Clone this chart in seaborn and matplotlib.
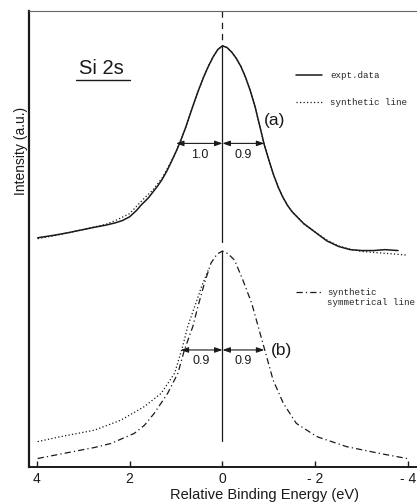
import matplotlib
matplotlib.use("Agg")
import matplotlib.pyplot as plt
from matplotlib.lines import Line2D
import pandas as pd
import seaborn as sns

# ---- Si 2s photoemission line: experimental data and fitted line shapes ----
# (a) measured spectrum
expt_energy = [3.98, 3.6, 3.33, 3.0, 2.76, 2.5, 2.3, 2.15, 2.0, 1.85, 1.75, 1.6, 1.5,
               1.4, 1.3, 1.2, 1.1, 1.0, 0.9, 0.8, 0.7, 0.6, 0.5, 0.4, 0.3, 0.2, 0.1,
               0.0, -0.1, -0.2, -0.3, -0.4, -0.5, -0.6, -0.7, -0.8, -0.9, -1.0,
               -1.1, -1.2, -1.3, -1.4, -1.5, -1.75, -2.0, -2.25, -2.5, -2.75, -3.0,
               -3.25, -3.5, -3.78]
expt_intensity = [5.02, 5.08, 5.13, 5.20, 5.25, 5.30, 5.35, 5.40, 5.48, 5.62, 5.74, 5.89,
                  6.02, 6.15, 6.30, 6.48, 6.69, 6.91, 7.15, 7.42, 7.72, 8.02, 8.30,
                  8.56, 8.79, 8.99, 9.15, 9.23, 9.19, 9.09, 8.95, 8.77, 8.53, 8.24,
                  7.90, 7.48, 7.06, 6.72, 6.40, 6.13, 5.91, 5.73, 5.59, 5.33, 5.14,
                  4.95, 4.83, 4.76, 4.74, 4.74, 4.76, 4.74]

# (a) asymmetric synthetic line
synth_energy = [3.98, 3.6, 3.0, 2.5, 2.3, 2.0, 1.75, 1.5, 1.3, 1.1, 1.0, 0.9, 0.8, 0.7,
                0.6, 0.5, 0.4, 0.3, 0.2, 0.1, 0.0, -0.1, -0.2, -0.3, -0.4, -0.5,
                -0.6, -0.7, -0.8, -0.9, -1.0, -1.1, -1.2, -1.3, -1.4, -1.5, -1.75,
                -2.0, -2.25, -2.5, -2.75, -3.0, -3.25, -3.5, -3.75, -3.96]
synth_intensity = [5.00, 5.07, 5.20, 5.32, 5.40, 5.55, 5.82, 6.07, 6.33, 6.70, 6.91,
                   7.15, 7.42, 7.72, 8.02, 8.30, 8.56, 8.79, 8.99, 9.15, 9.23, 9.19,
                   9.09, 8.95, 8.77, 8.53, 8.24, 7.90, 7.48, 7.06, 6.72, 6.40, 6.13,
                   5.91, 5.73, 5.59, 5.33, 5.14, 4.97, 4.84, 4.77, 4.72, 4.70, 4.68,
                   4.66, 4.64]

# (b) synthetic symmetrical line
sym_energy = [3.98, 3.12, 2.76, 2.40, 1.90, 1.68, 1.47, 1.18, 0.96, 0.82, 0.64, 0.53,
              0.39, 0.25, 0.12, 0.0, -0.12, -0.26, -0.44, -0.63, -0.77, -0.91, -1.09,
              -1.31, -1.59, -2.03, -2.67, -3.39, -3.97]
sym_intensity = [0.18, 0.35, 0.42, 0.51, 0.73, 0.91, 1.17, 1.61, 2.05, 2.56, 3.07, 3.51,
                 4.02, 4.46, 4.66, 4.73, 4.67, 4.53, 4.09, 3.58, 3.07, 2.56, 1.90,
                 1.39, 0.95, 0.66, 0.44, 0.29, 0.18]

# (b) asymmetric line, low-energy tail
asym_energy = [3.98, 3.48, 2.76, 2.19, 1.68, 1.32, 1.03, 0.86, 0.75, 0.60, 0.45, 0.30]
asym_intensity = [0.55, 0.66, 0.80, 1.02, 1.32, 1.61, 2.05, 2.63, 3.07, 3.51, 3.95,
                  4.33]

# half widths at half maximum (eV) and the levels they are measured at
hw_a = [1.0, 0.9]
hw_b = [0.9, 0.9]
half_level_a = 7.09
half_level_b = 2.56

tick_values = [4, 2, 0, -2, -4]
tick_labels = ["4", "2", "0", "- 2", "- 4"]

# ---------------------------------------------------------------------------
sns.set_style("white")
plt.rcParams["font.family"] = ["Liberation Sans", "DejaVu Sans"]
MONO = ["Liberation Mono", "DejaVu Sans Mono"]
INK = "#1a1a1a"

W, H = 417, 503
fig = plt.figure(figsize=(W / 100, H / 100), dpi=100)
ax = fig.add_axes([28.5 / W, (H - 466.7) / H, (W - 28.5) / W + 0.01, (466.7 - 10.7) / H])

expt = pd.DataFrame({"E": expt_energy, "I": expt_intensity})
synth = pd.DataFrame({"E": synth_energy, "I": synth_intensity})
sym = pd.DataFrame({"E": sym_energy, "I": sym_intensity})
asym = pd.DataFrame({"E": asym_energy, "I": asym_intensity})

sns.lineplot(data=synth, x="E", y="I", ax=ax, color=INK, lw=0.9,
             linestyle=(0, (1, 1.8)), sort=False, estimator=None)
sns.lineplot(data=expt, x="E", y="I", ax=ax, color=INK, lw=1.1,
             sort=False, estimator=None)
sns.lineplot(data=asym, x="E", y="I", ax=ax, color=INK, lw=0.9,
             linestyle=(0, (1, 1.8)), sort=False, estimator=None)
sns.lineplot(data=sym, x="E", y="I", ax=ax, color=INK, lw=0.9,
             linestyle=(0, (5, 2.5, 1, 2.5)), sort=False, estimator=None)

# line through the peak positions
peak_a = max(expt_intensity)
peak_b = max(sym_intensity)
ax.plot([0, 0], [10, peak_a], color=INK, lw=0.9, linestyle=(0, (5, 4)))
ax.plot([0, 0], [peak_a, 4.92], color=INK, lw=0.9)
ax.plot([0, 0], [peak_b, 0.56], color=INK, lw=0.9)

# half-width arrows with their values
arrow = dict(arrowstyle="<|-|>,head_length=0.45,head_width=0.16", color=INK, lw=0.8,
             shrinkA=0, shrinkB=0)
for level, (left, right) in ((half_level_a, hw_a), (half_level_b, hw_b)):
    ax.annotate("", xy=(left, level), xytext=(0, level), arrowprops=arrow)
    ax.annotate("", xy=(-right, level), xytext=(0, level), arrowprops=arrow)
    ax.text(left / 2, level - 0.12, f"{left:.1f}", ha="center", va="top",
            fontsize=9, color=INK)
    ax.text(-right / 2, level - 0.12, f"{right:.1f}", ha="center", va="top",
            fontsize=9, color=INK)

ax.text(-1.13, 7.6, "(a)", fontsize=12.5, ha="center", va="center", color=INK)
ax.text(-1.27, 2.55, "(b)", fontsize=12.5, ha="center", va="center", color=INK)

# spectral line name, underlined
ax.text(2.61, 8.74, "Si 2s", fontsize=14.5, ha="center", va="center", color=INK)
ax.plot([3.15, 2.0], [8.48, 8.48], color=INK, lw=1.0)

# legends
leg_a = ax.legend(
    handles=[Line2D([], [], color=INK, lw=1.1),
             Line2D([], [], color=INK, lw=0.9, linestyle=(0, (1, 1.8)))],
    labels=["expt.data", "synthetic line"],
    loc="upper left", bbox_to_anchor=(296 / W, 1 - 71 / H), bbox_transform=fig.transFigure,
    frameon=False, prop={"family": MONO, "size": 6.6}, handlelength=2.8,
    handletextpad=0.9, labelspacing=1.95, borderpad=0, borderaxespad=0)
ax.add_artist(leg_a)
ax.legend(
    handles=[Line2D([], [], color=INK, lw=0.9, linestyle=(0, (5, 2.5, 1, 2.5))),
             Line2D([], [], color="none")],
    labels=["synthetic", "symmetrical line"],
    loc="upper left", bbox_to_anchor=(296 / W, 1 - 288 / H), bbox_transform=fig.transFigure,
    frameon=False, prop={"family": MONO, "size": 6.6}, handlelength=2.8,
    handletextpad=0.6, labelspacing=0.15, borderpad=0, borderaxespad=0)

# axes
ax.set_xlim(4.177, -4.278)
ax.set_ylim(0, 10)
ax.set_xticks(tick_values)
ax.set_xticklabels(tick_labels)
ax.set_yticks([])
ax.tick_params(axis="x", direction="in", length=4, width=1.0, pad=4,
               labelsize=10, colors=INK, bottom=True)
ax.set_xlabel("Relative Binding Energy (eV)", fontsize=10.5, color=INK, labelpad=0,
              va="top")
ax.xaxis.set_label_coords((264 - 28.5) / (W - 28.5 + 4.17), -0.046)
ax.set_ylabel("Intensity (a.u.)", fontsize=10, color=INK)
ax.yaxis.set_label_coords(0.0, (466.7 - 151) / 456)

ax.spines["right"].set_visible(False)
ax.spines["left"].set_linewidth(1.6)
ax.spines["bottom"].set_linewidth(1.4)
ax.spines["top"].set_linewidth(0.8)
for s in ("left", "bottom"):
    ax.spines[s].set_color(INK)
ax.spines["top"].set_color("#666666")

fig.savefig("out.png", dpi=100)
